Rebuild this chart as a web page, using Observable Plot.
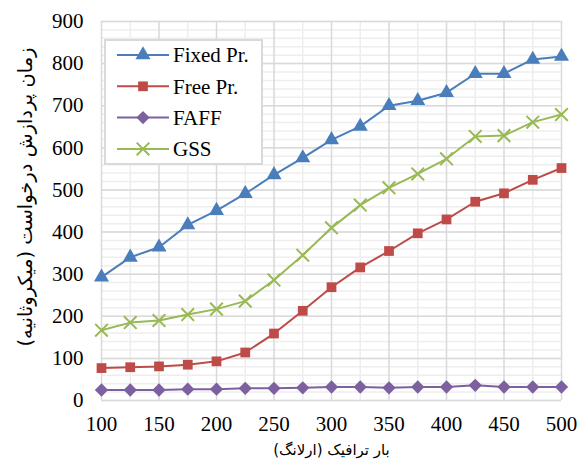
<!DOCTYPE html>
<html>
<head>
<meta charset="utf-8">
<script src="https://cdn.jsdelivr.net/npm/d3@7"></script>
<script src="https://cdn.jsdelivr.net/npm/@observablehq/plot@0.6"></script>
<style>
  html, body { margin: 0; padding: 0; background: white; }
  #wrap { position: relative; width: 579px; height: 465px; }
  #legend { position: absolute; left: 104px; top: 39px; }
</style>
</head>
<body>
<div id="wrap"></div>
<script>
const traffic = [100,125,150,175,200,225,250,275,300,325,350,375,400,425,450,475,500];
const fixedPr = [293,340,364,417,451,491,536,576,619,651,700,712,731,776,776,810,817];
const freePr  = [77,79,81,85,93,114,159,213,269,316,355,397,430,472,492,524,552];
const faff    = [25,25,25,27,27,29,29,30,32,32,30,32,32,36,32,32,32];
const gss     = [167,185,190,204,217,236,286,345,410,464,505,538,574,627,629,661,679];
const seriesNames = ["Fixed Pr.", "Free Pr.", "FAFF", "GSS"];
const seriesColors = ["#4a7ebb", "#be4b48", "#7d60a0", "#98b954"];
const seriesSymbols = ["triangle", "square", "diamond2", "times"];
const xTicks = [100,150,200,250,300,350,400,450,500];
const yTicks = [0,100,200,300,400,500,600,700,800,900];
const xLabel = "بار ترافیک (ارلانگ)";
const yLabel = "زمان پردازش درخواست (میکروثانیه)";

const SERIF = "'Liberation Serif', 'Times New Roman', serif";
const PERSIAN = "'DejaVu Sans', sans-serif";

const seriesValues = [fixedPr, freePr, faff, gss];
const rows = seriesNames.flatMap((name, i) =>
  traffic.map((t, j) => ({series: name, x: t, y: seriesValues[i][j]})));

const minorY = d3.range(0, 901, 20);
const minorX = d3.range(125, 500, 50);
const symbolR = {"triangle": 5.6, "square": 5.5, "diamond2": 6, "times": 5.8};

const marks = [
  Plot.ruleY(minorY, {stroke: "#eeeeee", strokeWidth: 1.5}),
  Plot.ruleX(minorX, {stroke: "#eeeeee", strokeWidth: 1.5}),
  Plot.ruleY(yTicks, {stroke: "#d9d9d9", strokeWidth: 1.5}),
  Plot.ruleX(xTicks, {stroke: "#d9d9d9", strokeWidth: 1.5}),
];
seriesNames.forEach((name, i) => {
  const data = rows.filter(d => d.series === name);
  marks.push(Plot.line(data, {x: "x", y: "y", stroke: seriesColors[i], strokeWidth: 2}));
  const sym = seriesSymbols[i];
  if (sym === "times") {
    marks.push(Plot.dot(data, {x: "x", y: "y", symbol: sym, r: symbolR[sym], stroke: seriesColors[i], strokeWidth: 2}));
  } else {
    marks.push(Plot.dot(data, {x: "x", y: "y", symbol: sym, r: symbolR[sym], fill: seriesColors[i], stroke: "none"}));
  }
});
marks.push(Plot.text([xLabel], {frameAnchor: "bottom", textAnchor: "middle", dy: 54, fontSize: 15, fill: "black"}));
marks.push(Plot.text([yLabel], {frameAnchor: "left", textAnchor: "middle", dx: -76, dy: -14, rotate: -90, fontSize: 19.5, fill: "black"}));

const chart = Plot.plot({
  width: 579,
  height: 465,
  marginTop: 21,
  marginBottom: 65,
  marginLeft: 101,
  marginRight: 18,
  style: {fontSize: "21px", color: "black", background: "white"},
  x: {domain: [100, 500], ticks: xTicks, tickSize: 0, tickPadding: 16, label: null},
  y: {domain: [0, 900], ticks: yTicks, tickSize: 0, tickPadding: 18, label: null},
  marks
});
chart.setAttribute("font-family", "Liberation Serif");
chart.querySelectorAll("g").forEach(g => { if (g.hasAttribute("font-family")) g.removeAttribute("font-family"); });
chart.querySelectorAll("text").forEach(t => {
  if (/[\u0600-\u06FF]/.test(t.textContent)) {
    t.setAttribute("direction", "rtl");
    t.setAttribute("font-family", "DejaVu Sans");
    t.style.setProperty("font-family", PERSIAN, "important");
  } else {
    t.setAttribute("font-family", "Liberation Serif");
    t.style.setProperty("font-family", SERIF, "important");
  }
});
document.getElementById("wrap").appendChild(chart);

// Legend overlay
const lg = d3.select("#wrap").append("svg").attr("id", "legend")
  .attr("width", 160).attr("height", 127).attr("font-family", "Liberation Serif").attr("font-size", 21);
lg.append("rect").attr("x", 1).attr("y", 1).attr("width", 157).attr("height", 124)
  .attr("fill", "white").attr("stroke", "#d9d9d9").attr("stroke-width", 2);
const symMap = {triangle: d3.symbolTriangle, square: d3.symbolSquare, diamond2: d3.symbolDiamond2, times: d3.symbolTimes};
seriesNames.forEach((name, i) => {
  const cy = 16 + i * 31.3;
  const g = lg.append("g");
  g.append("line").attr("x1", 13).attr("x2", 65).attr("y1", cy).attr("y2", cy)
    .attr("stroke", seriesColors[i]).attr("stroke-width", 2);
  const sym = seriesSymbols[i];
  const r = symbolR[sym];
  const path = d3.symbol(symMap[sym], Math.PI * r * r)();
  const p = g.append("path").attr("d", path).attr("transform", `translate(39,${cy})`);
  if (sym === "times") p.attr("fill", "none").attr("stroke", seriesColors[i]).attr("stroke-width", 2);
  else p.attr("fill", seriesColors[i]);
  const tx = g.append("text").attr("x", 69).attr("y", cy).attr("dy", "0.35em").attr("fill", "black")
    .attr("font-family", "Liberation Serif").text(name);
  tx.node().style.setProperty("font-family", SERIF, "important");
});
</script>
</body>
</html>
